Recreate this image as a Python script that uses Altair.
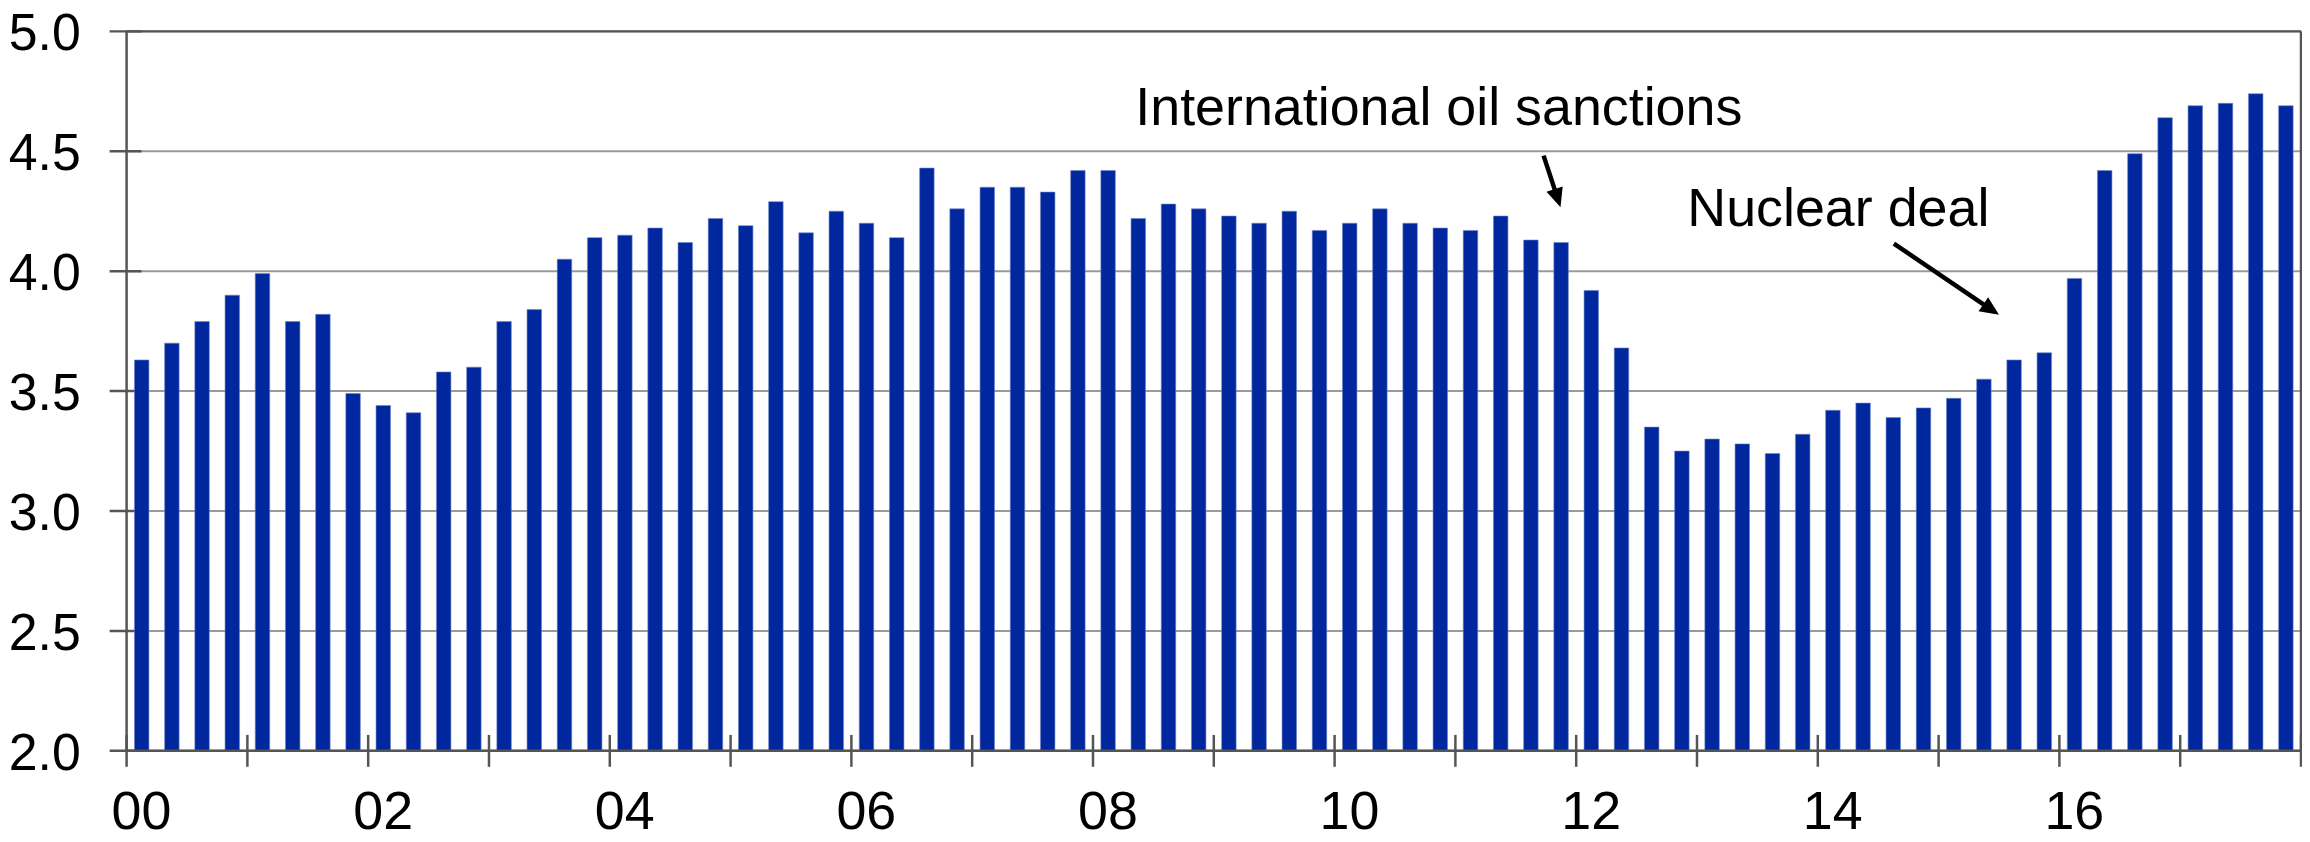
import math
import altair as alt
import pandas as pd

# ---------------- data ----------------
START_YEAR = 2000
values = [
    3.63, 3.70, 3.79, 3.90,
    3.99, 3.79, 3.82, 3.49,
    3.44, 3.41, 3.58, 3.60,
    3.79, 3.84, 4.05, 4.14,
    4.15, 4.18, 4.12, 4.22,
    4.19, 4.29, 4.16, 4.25,
    4.20, 4.14, 4.43, 4.26,
    4.35, 4.35, 4.33, 4.42,
    4.42, 4.22, 4.28, 4.26,
    4.23, 4.20, 4.25, 4.17,
    4.20, 4.26, 4.20, 4.18,
    4.17, 4.23, 4.13, 4.12,
    3.92, 3.68, 3.35, 3.25,
    3.30, 3.28, 3.24, 3.32,
    3.42, 3.45, 3.39, 3.43,
    3.47, 3.55, 3.63, 3.66,
    3.97, 4.42, 4.49, 4.64,
    4.69, 4.70, 4.74, 4.69,
]
tick_years = list(range(2000, 2019))
label_years = list(range(2000, 2017, 2))
tick_labels = ["00", "02", "04", "06", "08", "10", "12", "14", "16"]
y_ticks = [2.0, 2.5, 3.0, 3.5, 4.0, 4.5, 5.0]
y_labels = ["2.0", "2.5", "3.0", "3.5", "4.0", "4.5", "5.0"]
Y_MIN, Y_MAX = 2.0, 5.0

note_text = ["International oil sanctions", "Nuclear deal"]
note_year = [2008.35, 2012.92]
note_value = [4.61, 4.19]
arrow_tail_year = [2011.73, 2014.63]
arrow_tail_value = [4.482, 4.115]
arrow_tip_year = [2011.87, 2015.50]
arrow_tip_value = [4.267, 3.818]

# ---------------- layout / style ----------------
W, H = 2182, 722
N_YEARS = tick_years[-1] - tick_years[0]
PX_X = W / N_YEARS
PX_Y = H / (Y_MAX - Y_MIN)
BAR_COLOR = "#00279E"
AX_COLOR = "#555555"
GRID_COLOR = "#9a9a9a"
FONT = "Liberation Sans"
GAP = 0.25 * 0.26

bars = pd.DataFrame({
    "t0": [i / 4 + GAP for i in range(len(values))],
    "t1": [(i + 1) / 4 - GAP for i in range(len(values))],
    "value": values,
    "base": [Y_MIN] * len(values),
})
xticks = pd.DataFrame({"t": [y - START_YEAR for y in tick_years]})
xlabels = pd.DataFrame({"t": [y - START_YEAR for y in label_years], "lab": tick_labels})
yticks = pd.DataFrame({"v": y_ticks, "lab": y_labels})
top_df = pd.DataFrame({"v": [Y_MAX]})
bottom_df = pd.DataFrame({"v": [Y_MIN]})
left_df = pd.DataFrame({"t": [0]})
right_df = pd.DataFrame({"t": [N_YEARS]})
notes = pd.DataFrame({
    "t": [y - START_YEAR for y in note_year],
    "v": note_value,
    "text": note_text,
})

rows = []
for tx, tv, px, pv in zip(arrow_tail_year, arrow_tail_value, arrow_tip_year, arrow_tip_value):
    dx = (px - tx) * PX_X
    dy = -(pv - tv) * PX_Y
    length = math.hypot(dx, dy)
    frac = 13 / length
    rows.append({
        "tx": tx - START_YEAR, "tv": tv,
        "ex": (px - (px - tx) * frac) - START_YEAR, "ev": pv - (pv - tv) * frac,
        "px": px - START_YEAR, "pv": pv,
        "angle": math.degrees(math.atan2(dx, -dy)) % 360,
    })
arrows = pd.DataFrame(rows)

x_scale = alt.Scale(domain=[0, N_YEARS], nice=False, zero=False)
y_scale = alt.Scale(domain=[Y_MIN, Y_MAX], nice=False, zero=False)

# grid lines (behind bars)
grid = alt.Chart(yticks).mark_rule(color=GRID_COLOR, strokeWidth=2).encode(
    y=alt.Y("v:Q", scale=y_scale, axis=None),
    x=alt.value(0), x2=alt.value(W),
)
# y ticks crossing the left axis (behind bars)
y_tick_marks = alt.Chart(yticks).mark_rule(color=AX_COLOR, strokeWidth=2.5).encode(
    y=alt.Y("v:Q", axis=None),
    x=alt.value(-17), x2=alt.value(15),
)
y_tick_labels = alt.Chart(yticks).mark_text(
    font=FONT, fontSize=52, color="black", align="right", baseline="middle", dy=3,
).encode(
    y=alt.Y("v:Q", axis=None),
    x=alt.value(-46),
    text="lab:N",
)

bar_layer = alt.Chart(bars).mark_bar(color=BAR_COLOR, stroke="#6f86c9", strokeWidth=0.6).encode(
    x=alt.X("t0:Q", scale=x_scale, axis=None),
    x2="t1:Q",
    y=alt.Y("value:Q", axis=None),
    y2="base:Q",
)

# frame
left_axis = alt.Chart(left_df).mark_rule(color=AX_COLOR, strokeWidth=2.5).encode(
    x=alt.X("t:Q", axis=None), y=alt.value(0), y2=alt.value(H),
)
right_border = alt.Chart(right_df).mark_rule(color=AX_COLOR, strokeWidth=2.5).encode(
    x=alt.X("t:Q", axis=None), y=alt.value(0), y2=alt.value(H),
)
top_border = alt.Chart(top_df).mark_rule(color=AX_COLOR, strokeWidth=2.5).encode(
    y=alt.Y("v:Q", axis=None), x=alt.value(0), x2=alt.value(W),
)
bottom_axis = alt.Chart(bottom_df).mark_rule(color=AX_COLOR, strokeWidth=2.5).encode(
    y=alt.Y("v:Q", axis=None), x=alt.value(0), x2=alt.value(W),
)
x_tick_marks = alt.Chart(xticks).mark_rule(color=AX_COLOR, strokeWidth=2.5).encode(
    x=alt.X("t:Q", axis=None),
    y=alt.value(H - 16), y2=alt.value(H + 16),
)
x_tick_labels = alt.Chart(xlabels).mark_text(
    font=FONT, fontSize=54, color="black", align="center", baseline="alphabetic", dx=15,
).encode(
    x=alt.X("t:Q", axis=None),
    y=alt.value(H + 78),
    text="lab:N",
)

shafts = alt.Chart(arrows).mark_rule(color="black", strokeWidth=4.5).encode(
    x=alt.X("tx:Q", axis=None), x2="ex:Q",
    y=alt.Y("tv:Q", axis=None), y2="ev:Q",
)
heads = alt.Chart(arrows).mark_point(
    shape="M0,0L0.45,1L-0.45,1Z", filled=True, color="black", size=1444,
    strokeWidth=0, opacity=1,
).encode(
    x=alt.X("px:Q", axis=None),
    y=alt.Y("pv:Q", axis=None),
    angle=alt.Angle("angle:Q", scale=None),
)

texts = alt.Chart(notes).mark_text(
    font=FONT, fontSize=54, color="black", align="left", baseline="alphabetic",
).encode(
    x=alt.X("t:Q", axis=None),
    y=alt.Y("v:Q", axis=None),
    text="text:N",
)

chart = alt.layer(
    grid, y_tick_marks, y_tick_labels, bar_layer,
    left_axis, right_border, top_border, bottom_axis, x_tick_marks, x_tick_labels,
    shafts, heads, texts,
).properties(
    width=W, height=H,
    padding={"left": 119, "top": 22, "right": 1, "bottom": 90},
    autosize=alt.AutoSizeParams(type="none"),
    background="white",
).configure_view(stroke=None)

chart.save("out.html", embed_options={"renderer": "svg", "actions": False})
